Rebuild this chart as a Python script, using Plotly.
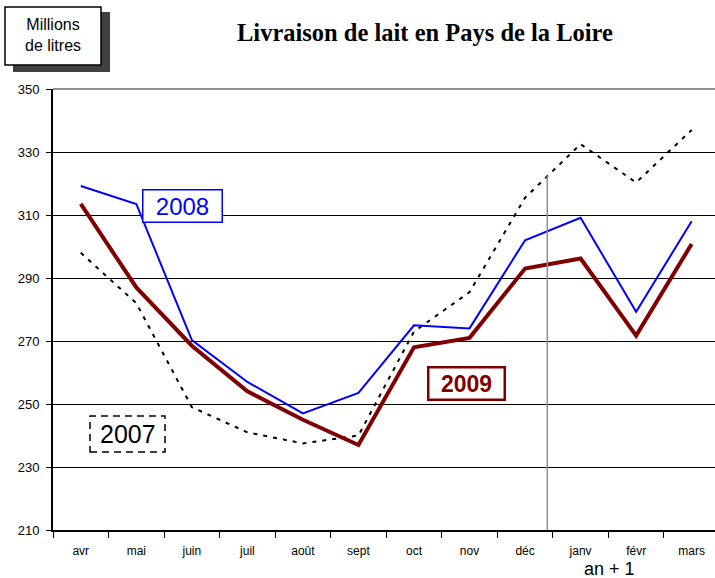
import plotly.graph_objects as go

months = ["avr", "mai", "juin", "juil", "août", "sept", "oct", "nov", "déc", "janv", "févr", "mars"]
y2007 = [298, 282, 249, 241, 237.5, 240, 273, 285.5, 315.5, 332.5, 320.3, 337]
y2008 = [319.2, 313.5, 270.3, 257, 247, 253.5, 275, 274, 302, 309.1, 279.3, 308]
y2009 = [313.5, 287, 268.5, 254, 245, 237, 268, 271, 293, 296.2, 271.7, 300.8]
yticks = [210, 230, 250, 270, 290, 310, 330, 350]

W, H = 715, 578
L, R, T, B = 53, 715, 89, 530

def px(x):
    return (x - L) / (R - L)

def py(y):
    return (B - y) / (B - T)

fig = go.Figure()
fig.add_trace(go.Scatter(x=months, y=y2007, mode="lines",
                         line=dict(color="black", width=2, dash="4px,6px"), name="2007"))
fig.add_trace(go.Scatter(x=months, y=y2008, mode="lines",
                         line=dict(color="#0000FF", width=2), name="2008"))
fig.add_trace(go.Scatter(x=months, y=y2009, mode="lines",
                         line=dict(color="#800000", width=4), name="2009"))

shapes = [
    dict(type="line", xref="x", yref="y", x0=8.4, x1=8.4, y0=210, y1=322.5,
         line=dict(color="#909090", width=1.5)),
    dict(type="line", xref="paper", yref="paper", x0=0, x1=1, y0=1, y1=1,
         line=dict(color="#909090", width=2)),
    dict(type="rect", xref="paper", yref="paper", x0=px(13), x1=px(110), y0=py(72), y1=py(12),
         fillcolor="#404040", line=dict(width=0), layer="above"),
    dict(type="rect", xref="paper", yref="paper", x0=px(5), x1=px(101), y0=py(65), y1=py(7),
         fillcolor="white", line=dict(color="black", width=1.5), layer="above"),
    dict(type="rect", xref="paper", yref="paper", x0=px(90), x1=px(165), y0=py(452), y1=py(416),
         fillcolor="white", line=dict(color="black", width=1.5, dash="7px,5px"), layer="above"),
]

annotations = [
    dict(text="Millions<br>de litres", xref="paper", yref="paper", x=px(53), y=py(35),
         xanchor="center", yanchor="middle", showarrow=False,
         font=dict(family="Liberation Sans, Arial", size=16, color="black")),
    dict(text="<b>Livraison de lait en Pays de la Loire</b>", xref="paper", yref="paper",
         x=px(425), y=py(32), xanchor="center", yanchor="middle", showarrow=False,
         font=dict(family="Liberation Serif, Times New Roman", size=24.5, color="black")),
    dict(text="2008", xref="paper", yref="paper", x=px(182), y=py(206), xanchor="center",
         yanchor="middle", showarrow=False, bgcolor="white", bordercolor="#0000FF",
         borderwidth=1.5, borderpad=2, width=74, height=27,
         font=dict(family="Liberation Sans, Arial", size=24, color="#0000FF")),
    dict(text="2007", xref="paper", yref="paper", x=px(127.5), y=py(434), xanchor="center",
         yanchor="middle", showarrow=False,
         font=dict(family="Liberation Sans, Arial", size=25, color="black")),
    dict(text="<b>2009</b>", xref="paper", yref="paper", x=px(466), y=py(383), xanchor="center",
         yanchor="middle", showarrow=False, bgcolor="white", bordercolor="#800000",
         borderwidth=2.5, borderpad=2, width=70, height=26,
         font=dict(family="Liberation Sans, Arial", size=23, color="#800000")),
    dict(text="an + 1", xref="paper", yref="paper", x=px(609), y=py(569), xanchor="center",
         yanchor="middle", showarrow=False,
         font=dict(family="Liberation Sans, Arial", size=18, color="black")),
]

fig.update_layout(
    width=W, height=H,
    margin=dict(l=L, r=W - R, t=T, b=H - B),
    paper_bgcolor="white", plot_bgcolor="white",
    showlegend=False,
    shapes=shapes, annotations=annotations,
    font=dict(family="Liberation Sans, Arial", color="black"),
)
fig.update_xaxes(type="category", range=[-0.5, 11.42], showgrid=False,
                 showline=True, linecolor="black", linewidth=1.5,
                 ticks="outside", tickson="boundaries", ticklen=6, tickcolor="black",
                 ticklabelstandoff=9,
                 tickfont=dict(size=12), zeroline=False)
fig.update_yaxes(range=[210, 350], tickvals=yticks, showgrid=True, gridcolor="black",
                 gridwidth=1, showline=True, linecolor="black", linewidth=2,
                 ticks="outside", ticklen=5, tickcolor="black",
                 ticklabelstandoff=4,
                 tickfont=dict(size=13), zeroline=False)

fig.write_html("out.html", config={"displayModeBar": False},
               post_script="document.body.style.margin='0';document.body.style.padding='0';document.body.style.overflow='hidden';")
